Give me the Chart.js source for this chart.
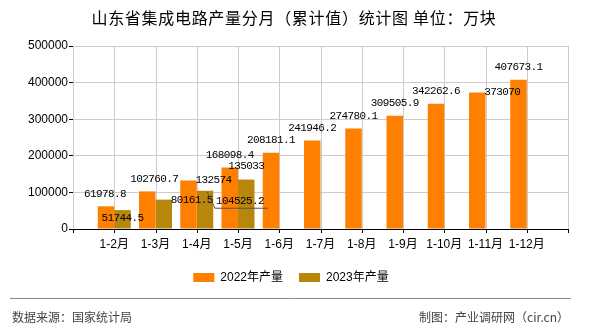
<!DOCTYPE html>
<html>
<head>
<meta charset="utf-8">
<script src="https://cdn.jsdelivr.net/npm/chart.js@4/dist/chart.umd.min.js"></script>
<style>
  body { margin: 0; background: #fff; }
  canvas { display: block; }
</style>
</head>
<body>
<canvas id="chart" width="590" height="330"></canvas>
<script>
const months = ["1-2月", "1-3月", "1-4月", "1-5月", "1-6月", "1-7月", "1-8月", "1-9月", "1-10月", "1-11月", "1-12月"];
const output2022 = [61978.8, 102760.7, 132574, 168098.4, 208181.1, 241946.2, 274780.1, 309505.9, 342262.6, 373070, 407673.1];
const output2023 = [51744.5, 80161.5, 104525.2, 135033];
const seriesNames = ["2022年产量", "2023年产量"];
const yMax = 500000;
const yStep = 100000;

const titleText = "山东省集成电路产量分月（累计值）统计图 单位：万块";
const sourceText = "数据来源：国家统计局";
const makerText = "制图：产业调研网（cir.cn）";

// label nudges [dx, dy] relative to bar top, keyed "dataset:month"
const labelNudge = {
  "0:0": [-1, -12], "0:1": [7, -12], "0:2": [25, 0], "0:9": [25, 0],
  "1:0": [0, 8], "1:1": [28, 0], "1:2": [35, 10], "1:3": [0, -13],
};
const leaderLines = { "1:2": true };

// pad an empty slot on both ends so the months sit on the grid lines
const pad = (arr) => [null, ...arr, ...new Array(months.length - arr.length).fill(null), null];

// vertical grid lines + tick marks of the category axis, taken from the scale
const categoryGrid = {
  id: "categoryGrid",
  beforeDatasetsDraw(chart) {
    const { ctx, chartArea } = chart;
    const x = chart.scales.x;
    ctx.save();
    ctx.lineWidth = 1;
    x.ticks.forEach((t, i) => {
      const px = Math.round(x.getPixelForTick(i)) + 0.5;
      ctx.strokeStyle = "#cccccc";
      ctx.beginPath();
      ctx.moveTo(px, chartArea.top);
      ctx.lineTo(px, chartArea.bottom);
      ctx.stroke();
      ctx.strokeStyle = "#000";
      ctx.beginPath();
      ctx.moveTo(px, chartArea.bottom);
      ctx.lineTo(px, chartArea.bottom + 4);
      ctx.stroke();
    });
    ctx.restore();
  },
};

const valueLabels = {
  id: "valueLabels",
  afterDatasetsDraw(chart) {
    const ctx = chart.ctx;
    ctx.save();
    ctx.font = "11px 'Liberation Mono', monospace";
    ctx.letterSpacing = "-0.6px";
    ctx.fillStyle = "#000";
    ctx.textAlign = "center";
    ctx.textBaseline = "middle";
    chart.data.datasets.forEach((ds, di) => {
      chart.getDatasetMeta(di).data.forEach((el, i) => {
        const v = ds.data[i];
        if (v == null) return;
        const key = di + ":" + (i - 1);
        const [dx, dy] = labelNudge[key] || [0, -12.5];
        if (leaderLines[key]) {
          ctx.strokeStyle = "#555";
          ctx.lineWidth = 1;
          ctx.beginPath();
          ctx.moveTo(el.x + 2, el.y + 1);
          ctx.lineTo(el.x + 10, el.y + 17.5);
          ctx.lineTo(el.x + 63, el.y + 17.5);
          ctx.stroke();
        }
        ctx.fillText(String(v), el.x + dx, el.y + dy);
      });
    });
    ctx.restore();
  },
};

const decorations = {
  id: "decorations",
  afterDraw(chart) {
    const ctx = chart.ctx;
    ctx.save();
    // title
    ctx.fillStyle = "#000";
    ctx.font = "16px 'Noto Sans CJK SC', sans-serif";
    ctx.letterSpacing = "0.7px";
    ctx.textAlign = "center";
    ctx.textBaseline = "middle";
    ctx.fillText(titleText, 294, 18);
    ctx.letterSpacing = "0px";

    // legend
    ctx.font = "12px 'Liberation Sans', 'Noto Sans CJK SC', sans-serif";
    ctx.textAlign = "left";
    const boxW = 21, boxH = 9, gap = 6, itemGap = 16;
    const widths = seriesNames.map((n) => boxW + gap + ctx.measureText(n).width);
    const total = widths.reduce((a, b) => a + b, 0) + itemGap * (widths.length - 1);
    let x = 291 - total / 2;
    chart.data.datasets.forEach((ds, i) => {
      ctx.fillStyle = ds.backgroundColor;
      ctx.fillRect(x, 273, boxW, boxH);
      ctx.fillStyle = "#000";
      ctx.fillText(ds.label, x + boxW + gap, 277.5);
      x += widths[i] + itemGap;
    });

    // separator + footer
    ctx.strokeStyle = "#888";
    ctx.lineWidth = 1;
    ctx.beginPath();
    ctx.moveTo(10, 298.5);
    ctx.lineTo(571, 298.5);
    ctx.stroke();
    ctx.fillStyle = "#444";
    ctx.font = "12px 'Noto Sans CJK SC', sans-serif";
    ctx.textAlign = "left";
    ctx.fillText(sourceText, 12, 317);
    ctx.textAlign = "right";
    ctx.fillText(makerText, 569, 317);
    ctx.restore();
  },
};

new Chart(document.getElementById("chart"), {
  type: "bar",
  data: {
    labels: ["", ...months, ""],
    datasets: [
      { label: seriesNames[0], data: pad(output2022), backgroundColor: "#FF8000", categoryPercentage: 0.8, barPercentage: 1 },
      { label: seriesNames[1], data: pad(output2023), backgroundColor: "#B8860B", categoryPercentage: 0.8, barPercentage: 1 },
    ],
  },
  options: {
    responsive: false,
    animation: false,
    layout: { padding: { top: 46, right: 22, left: 0, bottom: 0 } },
    plugins: { legend: { display: false }, tooltip: { enabled: false } },
    scales: {
      x: {
        offset: false,
        grid: { display: false },
        border: { display: true, color: "#000" },
        ticks: {
          color: "#000",
          padding: 0,
          maxRotation: 0,
          autoSkip: false,
          font: { family: "'Liberation Sans', 'Noto Sans CJK SC', sans-serif", size: 12 },
        },
        afterFit: (s) => { s.height = 101; },
      },
      y: {
        min: 0,
        max: yMax,
        ticks: {
          stepSize: yStep,
          color: "#000",
          padding: 1,
          callback: (v) => String(v),
          font: { family: "'Liberation Sans', sans-serif", size: 12 },
        },
        grid: { color: "#cccccc", tickColor: "#000", tickLength: 4 },
        border: { color: "#000" },
        afterFit: (s) => { s.width = 73; },
      },
    },
  },
  plugins: [categoryGrid, valueLabels, decorations],
});
</script>
</body>
</html>
